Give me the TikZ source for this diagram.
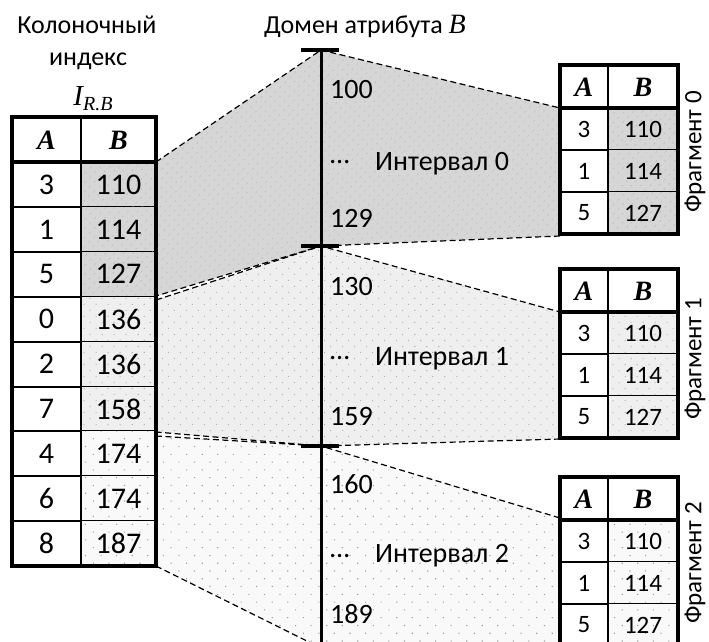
\documentclass[tikz,border=0pt]{standalone}
\usepackage{fontspec}
\setmainfont{Carlito}
\newfontfamily\serifit{Liberation Serif}
\usetikzlibrary{patterns.meta}

\definecolor{shadeA}{HTML}{D6D6D6}
\definecolor{shadeB}{HTML}{EFEFEF}
\definecolor{shadeC}{HTML}{F9F9F9}
\definecolor{dotA}{HTML}{A8A8A8}
\definecolor{dotB}{HTML}{B4B4B4}
\definecolor{dotC}{HTML}{A0A0A0}

\tikzset{
  zoneA/.style={preaction={fill=shadeA}, pattern={Dots[distance=6.5pt,radius=0.7pt,angle=45]}, pattern color=dotA},
  zoneB/.style={preaction={fill=shadeB}, pattern={Dots[distance=8.5pt,radius=0.75pt,angle=45]}, pattern color=dotB},
  zoneC/.style={preaction={fill=shadeC}, pattern={Dots[distance=11pt,radius=0.8pt,angle=45]}, pattern color=dotC},
  zoneedge/.style={dash pattern=on 6pt off 3.5pt, line width=1.2pt},
  bigtxt/.style={font=\fontsize{30}{34}\selectfont, inner sep=0pt},
  midtxt/.style={font=\fontsize{28}{32}\selectfont, inner sep=0pt},
  smalltxt/.style={font=\fontsize{25}{29}\selectfont, inner sep=0pt},
  titletxt/.style={font=\fontsize{26}{30}\selectfont, inner sep=0pt},
  headtxt/.style={font=\fontsize{28}{32}\selectfont\serifit\bfseries\itshape, inner sep=0pt},
  thinrule/.style={line width=2pt},
  thickrule/.style={line width=4.5pt},
}

\begin{document}
\begin{tikzpicture}[x=1pt,y=-1pt]
\useasboundingbox (0,0) rectangle (709,641);
\fill[white] (0,0) rectangle (709,641);

% anchor points of the interval zones
\coordinate (X0) at (321,50);
\coordinate (X1) at (321,246);
\coordinate (X2) at (321,446);
\coordinate (X3) at (321,648);
\coordinate (L0t) at (156,162);
\coordinate (L0b) at (156,296);
\coordinate (L1t) at (156,300);
\coordinate (L1b) at (156,432);
\coordinate (L2t) at (156,436);
\coordinate (L2b) at (156,566);
\coordinate (F0t) at (560,108);
\coordinate (F0b) at (560,236);
\coordinate (F1t) at (560,312);
\coordinate (F1b) at (560,439);
\coordinate (F2t) at (560,518);
\coordinate (F2b) at (560,690);
\coordinate (X3b) at (321,700);

% shaded zones
\path[zoneA] (L0t) -- (X0) -- (F0t) -- (F0b) -- (X1) -- (L0b) -- cycle;
\path[zoneB] (L1t) -- (X1) -- (F1t) -- (F1b) -- (X2) -- (L1b) -- cycle;
\path[zoneC] (L2t) -- (X2) -- (F2t) -- (F2b) -- (X3b) -- (X3) -- (L2b) -- cycle;

% dashed zone borders
\draw[zoneedge] (L0t) -- (X0) -- (F0t);
\draw[zoneedge] (F0b) -- (X1) -- (L0b);
\draw[zoneedge] (L1t) -- (X1) -- (F1t);
\draw[zoneedge] (F1b) -- (X2) -- (L1b);
\draw[zoneedge] (L2t) -- (X2) -- (F2t);
\draw[zoneedge] (L2b) -- (X3);

% domain axis
\draw[line width=3pt] (X0) -- (321,660);
\foreach \t in {0,1,2} \draw[line width=4.5pt] ([xshift=-20pt]X\t) -- ([xshift=18pt]X\t);

% axis labels
\node[midtxt, anchor=base west] (v100) at (330,98) {100};
\node[midtxt, anchor=base west] (d0) at (330,163) {…};
\node[midtxt, anchor=base west] (iv0) at (375,170) {Интервал 0};
\node[midtxt, anchor=base west] (v129) at (330,227) {129};
\node[midtxt, anchor=base west] (v130) at (330,295) {130};
\node[midtxt, anchor=base west] (d1) at (330,359) {…};
\node[midtxt, anchor=base west] (iv1) at (375,365) {Интервал 1};
\node[midtxt, anchor=base west] (v159) at (330,425) {159};
\node[midtxt, anchor=base west] (v160) at (330,493) {160};
\node[midtxt, anchor=base west] (d2) at (330,557) {…};
\node[midtxt, anchor=base west] (iv2) at (375,562) {Интервал 2};
\node[midtxt, anchor=base west] (v189) at (330,623) {189};

% titles
\node[titletxt, anchor=base] (t1) at (87,33) {Колоночный};
\node[titletxt, anchor=base] (t2) at (88,65) {индекс};
\node[titletxt, anchor=base] (t3) at (93,105) {{\serifit\itshape\fontsize{29}{32}\selectfont I}\raisebox{-5pt}{\serifit\itshape\fontsize{20}{22}\selectfont R.B}};
\node[titletxt, anchor=base] (t4) at (365,33) {Домен атрибута {\serifit\itshape\fontsize{28}{32}\selectfont B}};

% column index table
\fill[white] (12,117) rectangle (81,566);
\fill[white] (81,117) rectangle (156,162);
\foreach \a/\b/\z [count=\i from 0] in {3/110/zoneA,1/114/zoneA,5/127/zoneA,0/136/zoneB,2/136/zoneB,7/158/zoneB,4/174/zoneC,6/174/zoneC,8/187/zoneC} {
  \path[\z] (81,{162+44.9*\i}) rectangle (156,{206.9+44.9*\i});
  \node[bigtxt] (la\i) at (46.5,{184.45+44.9*\i}) {\a};
  \node[bigtxt] (lb\i) at (118.5,{184.45+44.9*\i}) {\b};
  \draw[thinrule] (12,{206.9+44.9*\i}) -- (156,{206.9+44.9*\i});
}
\node[headtxt] (lhA) at (46.5,140) {A};
\node[headtxt] (lhB) at (118.5,140) {B};
\draw[thinrule] (81,117) -- (81,566);
\draw[line width=4pt] (12,162) -- (156,162);
\draw[thickrule] (12,117) rectangle (156,566);

% fragment tables
\foreach \k/\T/\z in {0/65/zoneA,1/269/zoneB,2/477/zoneC} {
  \begin{scope}[yshift={-\T pt}]
    \fill[white] (560,0) rectangle (678,43);
    \fill[white] (560,43) rectangle (608,169);
    \foreach \a/\b [count=\j from 0] in {3/110,1/114,5/127} {
      \path[\z] (608,{43+42*\j}) rectangle (678,{85+42*\j});
      \node[smalltxt] (f\k a\j) at (584,{64+42*\j}) {\a};
      \node[smalltxt] (f\k b\j) at (643,{64+42*\j}) {\b};
      \draw[thinrule] (560,{85+42*\j}) -- (678,{85+42*\j});
    }
    \node[headtxt] (f\k hA) at (584,22) {A};
    \node[headtxt] (f\k hB) at (643,22) {B};
    \draw[thinrule] (608,0) -- (608,169);
    \draw[line width=4pt] (560,43) -- (678,43);
    \draw[line width=4pt] (560,0) rectangle (678,169);
  \end{scope}
}

% fragment captions
\node[smalltxt, rotate=90] (c0) at (695,152) {Фрагмент 0};
\node[smalltxt, rotate=90] (c1) at (695,359) {Фрагмент 1};
\node[smalltxt, rotate=90] (c2) at (695,563) {Фрагмент 2};
\end{tikzpicture}
\end{document}
